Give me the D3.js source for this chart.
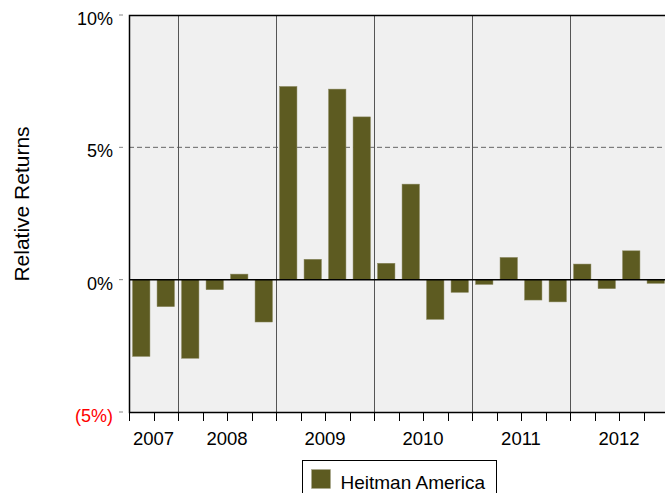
<!DOCTYPE html>
<html>
<head>
<meta charset="utf-8">
<script src="https://cdn.jsdelivr.net/npm/d3@7"></script>
<style>
  body { margin: 0; background: #fff; }
  svg { display: block; font-family: "Liberation Sans", Arial, sans-serif; }
</style>
</head>
<body>
<div id="chart"></div>
<script>
// quarterly relative returns (%), 2007 Q3 .. 2012 Q4
var quarters = ["2007Q3", "2007Q4",
    "2008Q1", "2008Q2", "2008Q3", "2008Q4",
    "2009Q1", "2009Q2", "2009Q3", "2009Q4",
    "2010Q1", "2010Q2", "2010Q3", "2010Q4",
    "2011Q1", "2011Q2", "2011Q3", "2011Q4",
    "2012Q1", "2012Q2", "2012Q3", "2012Q4"];
var returns = [-2.9, -1.02,
    -2.97, -0.38, 0.21, -1.6,
    7.3, 0.77, 7.2, 6.15,
    0.62, 3.61, -1.5, -0.48,
    -0.18, 0.84, -0.77, -0.84,
    0.59, -0.34, 1.09, -0.14];
var years = ["2007", "2008", "2009", "2010", "2011", "2012"];
var yTicks = [-5, 0, 5, 10];
var seriesName = "Heitman America";

var data = quarters.map(function(q, i) { return {q: q, year: q.slice(0, 4), v: returns[i]}; });

var margin = {top: 15, left: 129},
    width = 539,
    height = 397;

var x = d3.scaleBand()
    .domain(quarters)
    .range([0, width])
    .paddingInner(0.29)
    .paddingOuter(0.145);
var step = x.step();
var y = d3.scaleLinear()
    .domain([-5, 10])
    .range([height, 0]);

var svg = d3.select("#chart").append("svg")
    .attr("width", 665)
    .attr("height", 493);

var g = svg.append("g")
    .attr("transform", "translate(" + margin.left + "," + margin.top + ")");

// plot background
g.append("rect")
    .attr("width", width)
    .attr("height", height)
    .attr("fill", "#f0f0f0");

// 5% dashed reference
g.append("line")
    .attr("x1", 0).attr("x2", width)
    .attr("y1", y(5)).attr("y2", y(5))
    .attr("stroke", "#666")
    .attr("stroke-dasharray", "5,3");

// year separators
var yearStart = years.map(function(yr) {
    return quarters.findIndex(function(q) { return q.slice(0, 4) === yr; });
});
g.selectAll(".sep")
    .data(yearStart.slice(1))
    .enter().append("line")
    .attr("class", "sep")
    .attr("x1", function(i) { return Math.round(i * step) + 0.5; })
    .attr("x2", function(i) { return Math.round(i * step) + 0.5; })
    .attr("y1", 0)
    .attr("y2", height + 8)
    .attr("stroke", "#555");

// bars
g.selectAll(".bar")
    .data(data)
    .enter().append("rect")
    .attr("class", "bar")
    .attr("x", function(d) { return x(d.q); })
    .attr("width", x.bandwidth())
    .attr("y", function(d) { return y(Math.max(0, d.v)); })
    .attr("height", function(d) { return Math.abs(y(d.v) - y(0)); })
    .attr("fill", "#5d5b21")
    .attr("stroke", "#8a8860")
    .attr("stroke-width", 0.5);

// zero line
g.append("line")
    .attr("x1", 0).attr("x2", width)
    .attr("y1", y(0)).attr("y2", y(0))
    .attr("stroke", "#000")
    .attr("stroke-width", 1.5);

// frame: top, left, bottom
g.append("path")
    .attr("d", "M" + width + ",0.5H0.5V" + (height + 0.5) + "H" + width)
    .attr("fill", "none")
    .attr("stroke", "#000")
    .attr("stroke-width", 1.5);

// quarter ticks along bottom
g.selectAll(".qtick")
    .data(d3.range(quarters.length + 1))
    .enter().append("line")
    .attr("class", "qtick")
    .attr("x1", function(i) { return Math.round(i * step) + 0.5; })
    .attr("x2", function(i) { return Math.round(i * step) + 0.5; })
    .attr("y1", height)
    .attr("y2", height + 9)
    .attr("stroke", "#000");

// year labels
g.selectAll(".ylab")
    .data(years)
    .enter().append("text")
    .attr("class", "ylab")
    .attr("x", function(yr, k) {
        var n = data.filter(function(d) { return d.year === yr; }).length;
        return (yearStart[k] + n / 2) * step;
    })
    .attr("y", height + 33)
    .attr("text-anchor", "middle")
    .attr("font-size", "18.5px")
    .attr("fill", "#000")
    .text(function(d) { return d; });

// y axis ticks and labels
var yAxis = g.append("g").attr("class", "yaxis");
yAxis.selectAll("line")
    .data(yTicks)
    .enter().append("line")
    .attr("x1", -10).attr("x2", -6)
    .attr("y1", function(d) { return y(d); })
    .attr("y2", function(d) { return y(d); })
    .attr("stroke", "#888");
yAxis.selectAll("text")
    .data(yTicks)
    .enter().append("text")
    .attr("x", -16)
    .attr("y", function(d) { return y(d); })
    .attr("dy", "0.56em")
    .attr("text-anchor", "end")
    .attr("font-size", "18px")
    .attr("fill", function(d) { return d < 0 ? "#ff0000" : "#000"; })
    .text(function(d) { return d < 0 ? "(" + Math.abs(d) + "%)" : d + "%"; });

// y axis title
svg.append("text")
    .attr("transform", "translate(29,204) rotate(-90)")
    .attr("text-anchor", "middle")
    .attr("font-size", "21px")
    .attr("fill", "#000")
    .text("Relative Returns");

// legend
var legend = svg.append("g")
    .attr("transform", "translate(302.5,460.5)");
legend.append("rect")
    .attr("width", 194)
    .attr("height", 40)
    .attr("fill", "#fff")
    .attr("stroke", "#000");
legend.append("rect")
    .attr("x", 9).attr("y", 9)
    .attr("width", 19).attr("height", 19)
    .attr("fill", "#5d5b21")
    .attr("stroke", "#aaa890")
    .attr("stroke-width", 0.5);
legend.append("text")
    .attr("x", 38)
    .attr("y", 28)
    .attr("font-size", "19px")
    .attr("fill", "#000")
    .text(seriesName);
</script>
</body>
</html>
